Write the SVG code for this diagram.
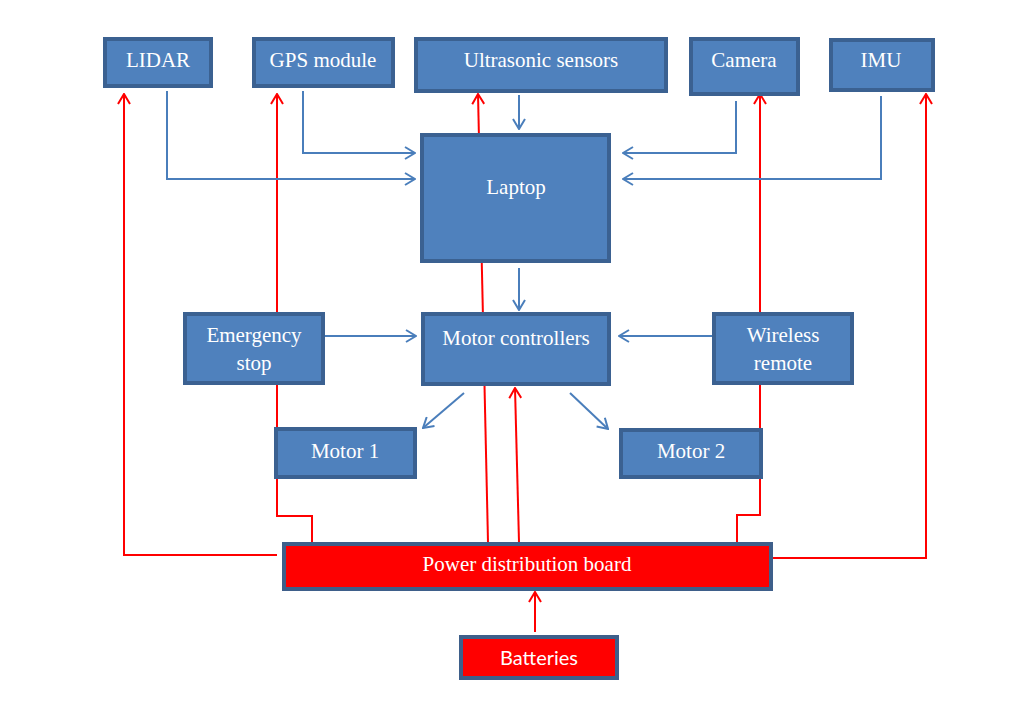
<svg xmlns="http://www.w3.org/2000/svg" width="1029" height="715" viewBox="0 0 1029 715">
<style>
.b{fill:#4F81BD;stroke:#3B6191;stroke-width:4}
.r{fill:#FF0000;stroke:#3E5F8A;stroke-width:4}
.t{font-family:"Liberation Serif","Times New Roman",serif;font-size:21px;fill:#fff;text-anchor:middle}
.s{font-family:Lato,"Open Sans",sans-serif;font-size:20px;fill:#fff;text-anchor:middle}
.bl{fill:none;stroke:#4A7EBB;stroke-width:2;marker-end:url(#ab)}
.rl{fill:none;stroke:#FF0000;stroke-width:2;marker-end:url(#ar)}
</style>
<defs>
<marker id="ab" viewBox="0 0 12 14" refX="11" refY="7" markerWidth="12" markerHeight="14" markerUnits="userSpaceOnUse" orient="auto">
<path d="M1,1 L11,7 L1,13" fill="none" stroke="#4A7EBB" stroke-width="2"/>
</marker>
<marker id="ar" viewBox="0 0 12 14" refX="11" refY="7" markerWidth="12" markerHeight="14" markerUnits="userSpaceOnUse" orient="auto">
<path d="M1,1 L11,7 L1,13" fill="none" stroke="#FF0000" stroke-width="2"/>
</marker>
</defs>
<rect width="1029" height="715" fill="#fff"/>
<g id="connectors">
<path class="rl" d="M277,555 H124 V94"/>
<path class="rl" d="M312,542 V516 H277 V94"/>
<path class="rl" d="M488,542 L478,94"/>
<path class="rl" d="M519,542 L515,388"/>
<path class="rl" d="M737,542 V515 H760 V94"/>
<path class="rl" d="M772,558 H926 V94"/>
<path class="rl" d="M535,632 V592"/>
<path class="bl" d="M167,91 V179 H415"/>
<path class="bl" d="M303,91 V153 H415"/>
<path class="bl" d="M519,95 V129"/>
<path class="bl" d="M736,101 V153 H623"/>
<path class="bl" d="M881,96 V179 H623"/>
<path class="bl" d="M519,268 V310"/>
<path class="bl" d="M325,336 H416"/>
<path class="bl" d="M712,336 H619"/>
<path class="bl" d="M464,393 L423,428"/>
<path class="bl" d="M570,393 L608,429"/>
</g>
<g id="lidar"><rect class="b" x="105" y="39" width="106" height="47"/><text class="t" x="158" y="67">LIDAR</text></g>
<g id="gps"><rect class="b" x="254" y="39" width="139" height="47"/><text class="t" x="323" y="67">GPS module</text></g>
<g id="ultrasonic"><rect class="b" x="416" y="39" width="250" height="52"/><text class="t" x="541" y="67">Ultrasonic sensors</text></g>
<g id="camera"><rect class="b" x="691" y="39" width="107" height="55"/><text class="t" x="744" y="67">Camera</text></g>
<g id="imu"><rect class="b" x="831" y="40" width="102" height="50"/><text class="t" x="881" y="67">IMU</text></g>
<g id="laptop"><rect class="b" x="422" y="135" width="187" height="126"/><text class="t" x="516" y="194">Laptop</text></g>
<g id="estop"><rect class="b" x="185" y="314" width="138" height="69"/><text class="t" x="254" y="342">Emergency</text><text class="t" x="254" y="370">stop</text></g>
<g id="motorcontrollers"><rect class="b" x="423" y="314" width="186" height="70"/><text class="t" x="516" y="345">Motor controllers</text></g>
<g id="wireless"><rect class="b" x="714" y="314" width="138" height="69"/><text class="t" x="783" y="342">Wireless</text><text class="t" x="783" y="370">remote</text></g>
<g id="motor1"><rect class="b" x="276" y="429" width="139" height="48"/><text class="t" x="345" y="458">Motor 1</text></g>
<g id="motor2"><rect class="b" x="621" y="430" width="140" height="47"/><text class="t" x="691" y="458">Motor 2</text></g>
<g id="pdb"><rect class="r" x="284" y="544" width="487" height="45"/><text class="t" x="527" y="571">Power distribution board</text></g>
<g id="batteries"><rect class="r" x="461" y="637" width="156" height="41"/><text class="s" x="539" y="665">Batteries</text></g>
</svg>
